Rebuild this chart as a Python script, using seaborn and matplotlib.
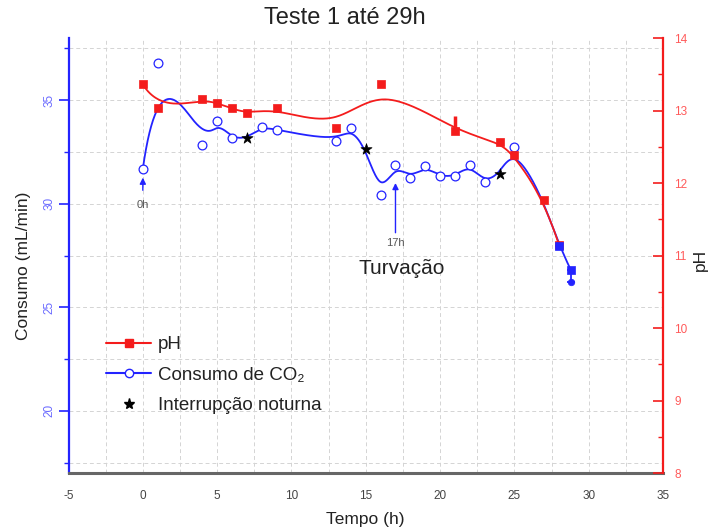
import numpy as np
import pandas as pd
import matplotlib
matplotlib.use("Agg")
import matplotlib.pyplot as plt
from matplotlib.lines import Line2D
from matplotlib.ticker import MultipleLocator
import seaborn as sns

# ---- pH do meio ----
tempo_ph = [0, 1, 4, 5, 6, 7, 9, 13, 16, 21, 24, 25, 27, 28]
ph = [13.36, 13.03, 13.155, 13.10, 13.03, 12.96, 13.03, 12.76, 13.36, 12.72, 12.56, 12.38, 11.77, 11.15]
ph_erro_sup = [0, 0, 0, 0, 0, 0, 0, 0, 0, 0.21, 0, 0, 0, 0]

# ---- consumo de CO2 (mL/min) ----
tempo_co2 = [0, 1, 4, 5, 6, 7, 8, 9, 13, 14, 15, 16, 17, 18, 19, 20, 21, 22, 23, 24, 25, 27, 28, 28.8]
consumo_co2 = [31.68, 36.78, 32.84, 33.98, 33.15, 33.16, 33.71, 33.58, 33.02, 33.66, 32.65, 30.44,
               31.89, 31.24, 31.81, 31.32, 31.32, 31.89, 31.03, 31.44, 32.74, 30.20, 27.98, 26.80]
# aberto = leitura normal, noturna = interrupção noturna, cheio = leituras finais, oculto = sob o pH
tipo_ponto = ["aberto"] * 5 + ["noturna"] + ["aberto"] * 4 + ["noturna"] + ["aberto"] * 8 + \
             ["noturna", "aberto", "oculto", "cheio", "cheio"]
consumo_erro_inf = [0] * 23 + [0.6]

x_ticks = [-5, 0, 5, 10, 15, 20, 25, 30, 35]
y_ticks_co2 = [20, 25, 30, 35]
y_ticks_ph = [8, 9, 10, 11, 12, 13, 14]

VERMELHO = "#f41c1c"
AZUL = "#2323ff"
AZUL_TXT = "#6a6aff"
VERM_TXT = "#ff5a5a"


def bspline_cubica(x, y, n=600):
    """Curva B-spline cúbica (extremos presos) com os pontos como polígono de controle."""
    P = np.column_stack([x, y]).astype(float)
    N = len(P)
    k = 3
    knots = np.array([0.0] * (k + 1) + list(range(1, N - k)) + [float(N - k)] * (k + 1))
    u = np.linspace(0, N - k, n)
    u[-1] -= 1e-9
    B = np.zeros((n, len(knots) - 1))
    for i in range(len(knots) - 1):
        B[:, i] = (knots[i] <= u) & (u < knots[i + 1])
    for d in range(1, k + 1):
        Bn = np.zeros((n, len(knots) - 1 - d))
        for i in range(len(knots) - 1 - d):
            a = knots[i + d] - knots[i]
            b = knots[i + d + 1] - knots[i + 1]
            t1 = (u - knots[i]) / a * B[:, i] if a > 0 else 0.0
            t2 = (knots[i + d + 1] - u) / b * B[:, i + 1] if b > 0 else 0.0
            Bn[:, i] = t1 + t2
        B = Bn
    c = B @ P
    return c[:, 0], c[:, 1]


df_ph = pd.DataFrame({"tempo": tempo_ph, "ph": ph, "erro": ph_erro_sup})
df_co2 = pd.DataFrame({"tempo": tempo_co2, "consumo": consumo_co2, "tipo": tipo_ponto,
                       "erro": consumo_erro_inf})

sns.set_theme(style="white")
plt.rcParams["font.family"] = ["Liberation Sans", "DejaVu Sans"]

fig = plt.figure(figsize=(7.1, 5.31), dpi=100)
ax = fig.add_axes([0.0965, 0.1092, 0.8373, 0.8192])
ax2 = ax.twinx()

# ---- consumo (eixo esquerdo) ----
cx, cy = bspline_cubica(df_co2["tempo"], df_co2["consumo"])
sns.lineplot(x=cx, y=cy, sort=False, estimator=None, ax=ax, color=AZUL, lw=1.3, zorder=3)
ab = df_co2[df_co2["tipo"] == "aberto"]
sns.scatterplot(data=ab, x="tempo", y="consumo", ax=ax, marker="o", s=40,
                facecolor="white", edgecolor=AZUL, linewidth=0.9, zorder=4)
no = df_co2[df_co2["tipo"] == "noturna"]
sns.scatterplot(data=no, x="tempo", y="consumo", ax=ax, marker="*", s=70,
                color="black", edgecolor="black", linewidth=0.5, zorder=5)
fim = df_co2[df_co2["tipo"] == "cheio"]
ax.errorbar(fim["tempo"], fim["consumo"], yerr=[fim["erro"], np.zeros(len(fim))], fmt="none",
            ecolor=AZUL, elinewidth=1.3, capsize=3, capthick=1.3, zorder=4)

# ---- pH (eixo direito) ----
px, py = bspline_cubica(df_ph["tempo"], df_ph["ph"])
sns.lineplot(x=px, y=py, sort=False, estimator=None, ax=ax2, color=VERMELHO, lw=1.3, zorder=3)
ax2.errorbar(df_ph["tempo"], df_ph["ph"], yerr=[np.zeros(len(df_ph)), df_ph["erro"]], fmt="none",
             ecolor=VERMELHO, elinewidth=2.5, capsize=0, zorder=3)
sns.scatterplot(data=df_ph, x="tempo", y="ph", ax=ax2, marker="s", s=34,
                color=VERMELHO, edgecolor=VERMELHO, linewidth=0.5, zorder=4)
# leituras finais de consumo por cima do pH
sns.scatterplot(data=fim, x="tempo", y="consumo", ax=ax2, marker="s", s=26,
                color=AZUL, edgecolor=AZUL, linewidth=0.5, zorder=6, transform=ax.transData)
fim_b = fim.assign(base=fim["consumo"] - fim["erro"]).iloc[[-1]]
sns.scatterplot(data=fim_b, x="tempo", y="base", ax=ax2, marker="o", s=22,
                color=AZUL, edgecolor=AZUL, linewidth=0.5, zorder=6, transform=ax.transData)

# ---- eixos ----
ax.set_xlim(-5, 35)
ax.set_ylim(17, 38)
ax2.set_ylim(8, 14)
ax.set_xticks(x_ticks)
ax.set_yticks(y_ticks_co2)
ax2.set_yticks(y_ticks_ph)
ax.xaxis.set_minor_locator(MultipleLocator(2.5))
ax.yaxis.set_minor_locator(MultipleLocator(2.5))
ax2.yaxis.set_minor_locator(MultipleLocator(0.5))
ax.set_xticklabels([str(v) for v in x_ticks])
ax.set_yticklabels([str(v) for v in y_ticks_co2])
ax2.set_yticklabels([str(v) for v in y_ticks_ph])

ax.grid(True, which="both", axis="both", color="#d4d4d4", linestyle=(0, (4, 3)), linewidth=0.7)
ax2.grid(False)

ax.tick_params(axis="y", which="major", direction="out", length=7.5, width=1.2, color=AZUL,
               labelcolor=AZUL_TXT, labelsize=8.5, pad=2, labelrotation=90)
ax.tick_params(axis="y", which="minor", direction="out", length=3.5, width=1.0, color=AZUL)
for t in ax.get_yticklabels():
    t.set_va("center")
ax.tick_params(axis="x", which="major", direction="out", length=7, width=1.2, color="#555555",
               labelcolor="#444444", labelsize=8.5, pad=5)
ax.tick_params(axis="x", which="minor", direction="out", length=3.5, width=1.0, color="#555555")
ax2.tick_params(axis="y", which="major", direction="in", length=7.5, width=1.2, color=VERMELHO,
                labelcolor=VERM_TXT, labelsize=8.5, pad=8)
ax2.tick_params(axis="y", which="minor", direction="in", length=3.5, width=1.0, color=VERMELHO)

ax.spines["left"].set_color(AZUL)
ax.spines["left"].set_linewidth(1.6)
ax.spines["bottom"].set_color("#666666")
ax.spines["bottom"].set_linewidth(2.2)
ax.spines["top"].set_visible(False)
ax.spines["right"].set_visible(False)
for s in ("left", "top", "bottom"):
    ax2.spines[s].set_visible(False)
ax2.spines["right"].set_color(VERMELHO)
ax2.spines["right"].set_linewidth(1.6)

ax.set_xlabel("Tempo (h)", fontsize=12.5, color="#222222")
ax.set_ylabel("Consumo (mL/min)", fontsize=12.5, color="#222222")
ax2.set_ylabel("pH", fontsize=12.5, color="#222222", rotation=90)
ax.xaxis.label.set_va("center")
ax.yaxis.label.set_va("center")
ax2.yaxis.label.set_va("center")
ax.xaxis.set_label_coords(0.499, -0.108)
ax.yaxis.set_label_coords(-0.076, 0.476)
ax2.yaxis.set_label_coords(1.063, 0.49)

fig.text(345 / 710, 1 - 18 / 531, "Teste 1 até 29h", ha="center", va="center",
         fontsize=17, color="#222222")

# ---- marcações ----
seta = dict(arrowstyle="-|>", color=AZUL, lw=1.0, mutation_scale=9, shrinkA=0, shrinkB=0)
ax.annotate("", xy=(0, 31.26), xytext=(0, 30.65), arrowprops=seta, zorder=5)
ax.text(0, 29.95, "0h", ha="center", va="center", fontsize=8, color="#555555")
ax.annotate("", xy=(17, 31.0), xytext=(17, 28.6), arrowprops=seta, zorder=5)
ax.text(17, 28.12, "17h", ha="center", va="center", fontsize=8, color="#555555")
ax.text(17.4, 26.85, "Turvação", ha="center", va="center", fontsize=15, color="#222222")

# ---- legenda ----
handles = [
    Line2D([], [], color=VERMELHO, lw=1.5, marker="s", ms=6, mfc=VERMELHO, mec=VERMELHO),
    Line2D([], [], color=AZUL, lw=1.5, marker="o", ms=6, mfc="white", mec=AZUL),
    Line2D([], [], color="black", lw=0, marker="*", ms=8),
]
labels = ["pH", "Consumo de CO₂", "Interrupção noturna"]
leg = ax.legend(handles, labels, loc="upper left", bbox_to_anchor=(106 / 710, 1 - 336 / 531),
                bbox_transform=fig.transFigure, frameon=False, fontsize=13.5, handlelength=2.4,
                handletextpad=0.35, labelspacing=0.72, borderpad=0, borderaxespad=0)
for t in leg.get_texts():
    t.set_color("#222222")
leg.remove()
ax2.add_artist(leg)

fig.savefig("out.png", dpi=100)
